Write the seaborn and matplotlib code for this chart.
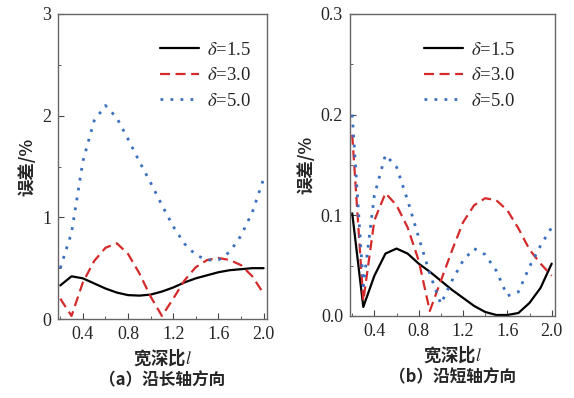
import numpy as np
import pandas as pd
import matplotlib
matplotlib.use('Agg')
import matplotlib.pyplot as plt
from matplotlib.ticker import MultipleLocator
import seaborn as sns

# width-to-depth ratio l
ratio = [0.2, 0.3, 0.4, 0.5, 0.6, 0.7, 0.8, 0.9, 1.0, 1.1,
         1.2, 1.3, 1.4, 1.5, 1.6, 1.7, 1.8, 1.9, 2.0]

# (a) along the long axis, error in %
long_d15 = [0.33, 0.42, 0.40, 0.35, 0.30, 0.26, 0.235, 0.23, 0.24, 0.27,
            0.31, 0.36, 0.40, 0.43, 0.46, 0.48, 0.49, 0.50, 0.50]
long_d30 = [0.20, 0.03, 0.36, 0.57, 0.70, 0.745, 0.64, 0.45, 0.22, 0.03,
            0.20, 0.38, 0.51, 0.58, 0.60, 0.58, 0.53, 0.42, 0.25]
long_d50 = [0.50, 0.85, 1.55, 1.95, 2.10, 1.98, 1.77, 1.55, 1.34, 1.12,
            0.91, 0.74, 0.63, 0.58, 0.58, 0.66, 0.82, 1.05, 1.38]

# (b) along the short axis, error in %
short_d15 = [0.102, 0.009, 0.040, 0.062, 0.067, 0.062, 0.052, 0.044, 0.035, 0.026,
             0.018, 0.010, 0.004, 0.001, 0.001, 0.003, 0.013, 0.028, 0.052]
short_d30 = [0.180, 0.015, 0.095, 0.122, 0.110, 0.088, 0.055, 0.005, 0.035, 0.065,
             0.093, 0.110, 0.117, 0.115, 0.105, 0.087, 0.066, 0.052, 0.040]
short_d50 = [0.200, 0.030, 0.120, 0.160, 0.148, 0.115, 0.078, 0.042, 0.012, 0.035,
             0.055, 0.067, 0.061, 0.045, 0.020, 0.024, 0.049, 0.070, 0.088]

labels = [r'$\delta$=1.5', r'$\delta$=3.0', r'$\delta$=5.0']
colors = ['black', '#d42a2a', '#3a6fc0']
styles = ['-', (0, (4.5, 2.5)), (0, (1, 2.6))]
widths = [1.6, 1.6, 2.0]

sns.set_style('ticks')
plt.rcParams['font.family'] = ['Liberation Serif', 'Noto Sans CJK SC']
plt.rcParams['mathtext.fontset'] = 'stix'

fig = plt.figure(figsize=(5.74, 3.98), dpi=100)
ax1 = fig.add_axes([58 / 574, 1 - 319 / 398, 209 / 574, 305 / 398])
ax2 = fig.add_axes([350 / 574, 1 - 316 / 398, 205 / 574, 302 / 398])

panels = [
    (ax1, [long_d15, long_d30, long_d50], (0, 3), 1, 0.5, '（a）沿长轴方向', '{:.0f}', 9),
    (ax2, [short_d15, short_d30, short_d50], (0, 0.3), 0.1, 0.05, '（b）沿短轴方向', '{:.1f}', 33),
]

for ax, series, ylim, major, minor, caption, fmt, rpad in panels:
    for vals, lab, c, ls, lw in zip(series, labels, colors, styles, widths):
        sns.lineplot(x=ratio, y=vals, ax=ax, color=c, linestyle=ls, linewidth=lw, label=lab)
    ax.set_xlim(0.18, 2.03)
    ax.set_ylim(*ylim)
    ax.xaxis.set_minor_locator(MultipleLocator(0.2))
    ax.yaxis.set_minor_locator(MultipleLocator(minor))
    ax.set_xticks([0.4, 0.8, 1.2, 1.6, 2.0])
    ax.set_xticklabels(['0.4', '0.8', '1.2', '1.6', '2.0'])
    yt = np.arange(0, ylim[1] + 1e-9, major)
    ax.set_yticks(yt)
    ax.set_yticklabels([fmt.format(v) for v in yt])
    ax.tick_params(which='both', direction='in', labelsize=13, color='#444444')
    ax.tick_params(which='major', length=4, pad=5)
    ax.tick_params(which='minor', length=2)
    for s in ax.spines.values():
        s.set_color('#666666')
        s.set_linewidth(1.0)
    ax.set_xlabel('')
    ax.set_ylabel('误差/%', fontsize=12.5, fontweight='bold',
                  family=['Noto Sans CJK SC'], labelpad=4)
    w = ax.get_position().width * 574
    h = ax.get_position().height * 398
    ax.text(0.5, -27 / h, '宽深比$l$', transform=ax.transAxes, ha='center', va='top',
            fontsize=12.5, fontweight='bold', family=['Noto Sans CJK SC'])
    ax.text(0.5, -52 / h, caption, transform=ax.transAxes, ha='center', va='top',
            fontsize=12, fontweight='bold', family=['Noto Sans CJK SC'])
    ax.legend(loc='upper right', bbox_to_anchor=(1 - rpad / w, 1 - 20 / h),
              borderaxespad=0, frameon=False, fontsize=13.5, handlelength=2.1,
              labelspacing=0.45, handletextpad=0.4)

fig.savefig('out.png', dpi=100)
